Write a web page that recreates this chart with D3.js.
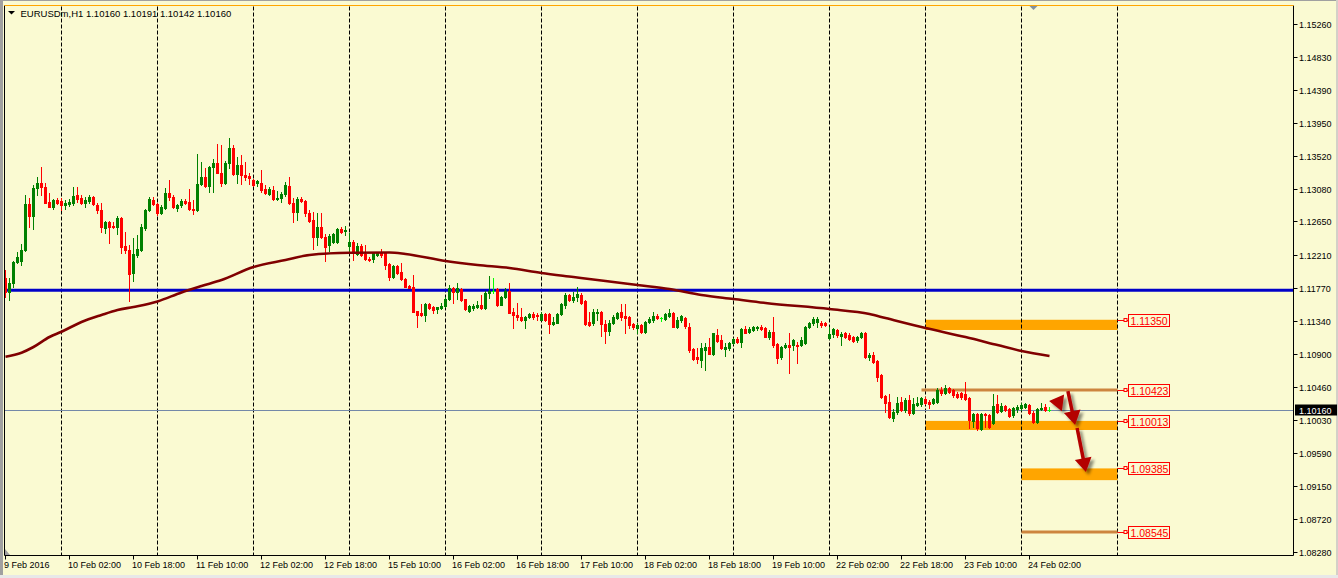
<!DOCTYPE html>
<html><head><meta charset="utf-8">
<script src="https://cdn.jsdelivr.net/npm/d3@7"></script>
<style>
html,body{margin:0;padding:0;background:#fafad2;overflow:hidden}
svg{display:block}
text{font-family:"Liberation Sans",Arial,sans-serif}
</style></head><body>
<svg id="c" width="1338" height="578"></svg>
<script>
// ---------- DATA ----------
const symbol = "EURUSDm,H1";
const open = [1.11902,1.11717,1.11836,1.12114,1.12127,1.12272,1.12880,1.12722,1.13092,1.13158,
1.13105,1.12907,1.12841,1.12933,1.12920,1.12867,1.12880,1.12894,1.12999,1.12960,
1.12894,1.12920,1.12973,1.12867,1.12801,1.12563,1.12642,1.12590,1.12576,1.12695,
1.12325,1.12272,1.11968,1.12206,1.12272,1.12563,1.12801,1.12933,1.12880,1.12761,
1.12828,1.13026,1.12973,1.12828,1.12867,1.12920,1.12907,1.12814,1.12801,1.13145,
1.13237,1.13118,1.13370,1.13422,1.13290,1.13158,1.13422,1.13621,1.13277,1.13396,
1.13264,1.13251,1.13198,1.13158,1.13158,1.13079,1.13013,1.13066,1.12947,1.12960,
1.13013,1.13118,1.12894,1.12775,1.12947,1.12920,1.12761,1.12669,1.12444,1.12576,
1.12444,1.12338,1.12378,1.12378,1.12550,1.12523,1.12325,1.12378,1.12219,1.12325,
1.12219,1.12153,1.12153,1.12206,1.12233,1.12233,1.12087,1.11915,1.12061,1.11981,
1.11889,1.11796,1.11783,1.11466,1.11439,1.11413,1.11558,1.11519,1.11492,1.11506,
1.11532,1.11625,1.11770,1.11717,1.11757,1.11625,1.11466,1.11506,1.11519,1.11545,
1.11506,1.11704,1.11730,1.11757,1.11545,1.11651,1.11730,1.11453,1.11413,1.11387,
1.11347,1.11387,1.11426,1.11413,1.11347,1.11426,1.11426,1.11294,1.11307,1.11426,
1.11545,1.11677,1.11611,1.11651,1.11677,1.11598,1.11320,1.11307,1.11439,1.11453,
1.11294,1.11201,1.11307,1.11373,1.11453,1.11400,1.11387,1.11294,1.11241,1.11281,
1.11188,1.11320,1.11347,1.11400,1.11373,1.11360,1.11400,1.11439,1.11254,1.11347,
1.11373,1.11254,1.10964,1.10858,1.10818,1.10950,1.10990,1.10897,1.11149,1.11083,
1.10964,1.10977,1.11043,1.11096,1.11056,1.11228,1.11188,1.11215,1.11241,1.11254,
1.11241,1.11122,1.11188,1.11030,1.10858,1.10990,1.11016,1.11016,1.11016,1.11016,
1.11043,1.11254,1.11307,1.11320,1.11307,1.11307,1.11109,1.11162,1.11215,1.11135,
1.11175,1.11149,1.11122,1.11083,1.11122,1.11175,1.10858,1.10884,1.10805,1.10620,
1.10342,1.10263,1.10051,1.10131,1.10263,1.10157,1.10289,1.10117,1.10223,1.10236,
1.10303,1.10263,1.10250,1.10263,1.10422,1.10382,1.10448,1.10422,1.10369,1.10382,
1.10369,1.10316,1.10012,1.10104,1.09906,1.10104,1.10091,1.09985,1.10236,1.10144,
1.10210,1.10170,1.10091,1.10170,1.10184,1.10197,1.10223,1.10117,1.09998,1.10170,
1.10197,1.10160];
const high = [1.12008,1.11902,1.12127,1.12246,1.12352,1.12999,1.12960,1.13132,1.13237,1.13370,
1.13158,1.13026,1.12947,1.12960,1.12960,1.12933,1.12947,1.13105,1.13105,1.12999,
1.12973,1.12999,1.12986,1.12894,1.12894,1.12656,1.12656,1.12642,1.12722,1.12709,
1.12510,1.12338,1.12431,1.12471,1.12616,1.12814,1.12973,1.12973,1.12894,1.12867,
1.13092,1.13198,1.12999,1.12880,1.12947,1.12947,1.13079,1.12933,1.13541,1.13436,
1.13356,1.13383,1.13475,1.13674,1.13660,1.13449,1.13753,1.13660,1.13502,1.13528,
1.13436,1.13290,1.13211,1.13198,1.13330,1.13132,1.13105,1.13118,1.13052,1.13039,
1.13171,1.13237,1.12960,1.12973,1.12973,1.12933,1.12801,1.12775,1.12761,1.12761,
1.12484,1.12484,1.12497,1.12563,1.12576,1.12590,1.12497,1.12405,1.12365,1.12352,
1.12338,1.12180,1.12233,1.12246,1.12286,1.12246,1.12100,1.12074,1.12074,1.12100,
1.11902,1.11810,1.11942,1.11466,1.11558,1.11572,1.11572,1.11532,1.11519,1.11572,
1.11651,1.11810,1.11783,1.11836,1.11770,1.11625,1.11545,1.11558,1.11598,1.11677,
1.11730,1.11929,1.11902,1.11770,1.11664,1.11770,1.11836,1.11506,1.11572,1.11506,
1.11400,1.11439,1.11453,1.11439,1.11453,1.11439,1.11439,1.11387,1.11439,1.11572,
1.11704,1.11691,1.11717,1.11783,1.11704,1.11611,1.11453,1.11492,1.11492,1.11466,
1.11347,1.11347,1.11413,1.11453,1.11558,1.11558,1.11400,1.11307,1.11307,1.11294,
1.11334,1.11387,1.11453,1.11426,1.11387,1.11439,1.11492,1.11453,1.11387,1.11413,
1.11387,1.11307,1.10977,1.10977,1.11043,1.11043,1.11109,1.11175,1.11228,1.11149,
1.11043,1.11056,1.11109,1.11122,1.11241,1.11268,1.11254,1.11268,1.11268,1.11281,
1.11254,1.11215,1.11387,1.11043,1.11003,1.11043,1.11175,1.11096,1.11056,1.11122,
1.11268,1.11320,1.11387,1.11387,1.11334,1.11320,1.11254,1.11241,1.11228,1.11188,
1.11188,1.11175,1.11135,1.11135,1.11188,1.11188,1.10911,1.10924,1.10818,1.10633,
1.10355,1.10369,1.10170,1.10329,1.10329,1.10316,1.10355,1.10316,1.10329,1.10329,
1.10329,1.10289,1.10316,1.10448,1.10461,1.10488,1.10461,1.10435,1.10395,1.10395,
1.10527,1.10329,1.10117,1.10117,1.10117,1.10117,1.10104,1.10369,1.10355,1.10250,
1.10223,1.10184,1.10197,1.10223,1.10250,1.10250,1.10236,1.10144,1.10184,1.10250,
1.10236,1.10191];
const low = [1.11651,1.11611,1.11783,1.12100,1.12074,1.12259,1.12576,1.12550,1.12999,1.12999,
1.12894,1.12841,1.12814,1.12880,1.12801,1.12814,1.12854,1.12867,1.12907,1.12880,
1.12841,1.12894,1.12867,1.12761,1.12510,1.12497,1.12365,1.12563,1.12484,1.12233,
1.12233,1.11598,1.11862,1.12180,1.12259,1.12537,1.12788,1.12867,1.12735,1.12748,
1.12814,1.12933,1.12828,1.12788,1.12841,1.12880,1.12801,1.12748,1.12788,1.13132,
1.13105,1.13039,1.13039,1.13290,1.13118,1.13145,1.13356,1.13264,1.13158,1.13145,
1.13198,1.13145,1.13118,1.13118,1.13039,1.13013,1.12999,1.12933,1.12933,1.12907,
1.12986,1.12880,1.12642,1.12669,1.12907,1.12722,1.12642,1.12286,1.12338,1.12431,
1.12127,1.12259,1.12365,1.12365,1.12497,1.12471,1.12233,1.12140,1.12206,1.12193,
1.12140,1.12127,1.12114,1.12193,1.12180,1.12021,1.11876,1.11902,1.11955,1.11876,
1.11783,1.11770,1.11453,1.11254,1.11400,1.11334,1.11492,1.11439,1.11439,1.11492,
1.11519,1.11611,1.11572,1.11625,1.11598,1.11479,1.11453,1.11479,1.11506,1.11492,
1.11492,1.11638,1.11704,1.11532,1.11545,1.11638,1.11439,1.11241,1.11347,1.11334,
1.11241,1.11373,1.11360,1.11347,1.11347,1.11334,1.11175,1.11281,1.11307,1.11413,
1.11506,1.11598,1.11585,1.11598,1.11558,1.11281,1.11268,1.11281,1.11347,1.11135,
1.11043,1.11149,1.11294,1.11360,1.11347,1.11175,1.11241,1.11228,1.11175,1.11175,
1.11175,1.11307,1.11320,1.11360,1.11334,1.11347,1.11387,1.11254,1.11241,1.11320,
1.11241,1.10924,1.10818,1.10778,1.10726,1.10686,1.10897,1.10884,1.11056,1.10964,
1.10871,1.10950,1.11030,1.11043,1.10990,1.11175,1.11175,1.11201,1.11215,1.11215,
1.11122,1.11096,1.10990,1.10778,1.10831,1.10977,1.10646,1.10950,1.10778,1.11003,
1.11030,1.11241,1.11281,1.11254,1.11254,1.11268,1.11096,1.11122,1.11122,1.11016,
1.11109,1.11083,1.11056,1.11056,1.11109,1.10845,1.10818,1.10778,1.10540,1.10316,
1.10131,1.10051,1.10012,1.10104,1.10144,1.10131,1.10091,1.10104,1.10210,1.10210,
1.10236,1.10184,1.10236,1.10250,1.10355,1.10369,1.10382,1.10329,1.10316,1.10303,
1.10289,1.09919,1.09932,1.09893,1.09893,1.09932,1.09919,1.09972,1.10117,1.10131,
1.10144,1.10065,1.10065,1.10131,1.10157,1.10184,1.10104,1.09985,1.09985,1.10157,
1.10144,1.10142];
const close = [1.11717,1.11836,1.12114,1.12180,1.12272,1.12880,1.12722,1.13092,1.13158,1.13105,
1.12894,1.12841,1.12933,1.12894,1.12867,1.12894,1.12907,1.12986,1.12947,1.12894,
1.12933,1.12973,1.12880,1.12801,1.12576,1.12642,1.12576,1.12576,1.12695,1.12312,
1.12272,1.11955,1.12219,1.12286,1.12576,1.12801,1.12947,1.12880,1.12761,1.12841,
1.13026,1.12973,1.12841,1.12867,1.12920,1.12894,1.12814,1.12801,1.13145,1.13237,
1.13118,1.13370,1.13422,1.13290,1.13158,1.13422,1.13621,1.13277,1.13396,1.13264,
1.13237,1.13224,1.13132,1.13184,1.13066,1.13026,1.13079,1.12947,1.12960,1.13013,
1.13132,1.12894,1.12775,1.12947,1.12920,1.12761,1.12656,1.12444,1.12576,1.12444,
1.12312,1.12457,1.12484,1.12550,1.12510,1.12537,1.12378,1.12233,1.12325,1.12206,
1.12153,1.12140,1.12233,1.12233,1.12206,1.12074,1.11915,1.12061,1.11968,1.11889,
1.11783,1.11770,1.11453,1.11413,1.11413,1.11558,1.11506,1.11479,1.11519,1.11532,
1.11625,1.11770,1.11717,1.11770,1.11611,1.11492,1.11532,1.11532,1.11545,1.11506,
1.11704,1.11730,1.11730,1.11545,1.11651,1.11730,1.11439,1.11413,1.11387,1.11347,
1.11387,1.11426,1.11387,1.11400,1.11426,1.11347,1.11294,1.11320,1.11426,1.11558,
1.11677,1.11611,1.11651,1.11691,1.11572,1.11294,1.11281,1.11453,1.11453,1.11294,
1.11201,1.11307,1.11387,1.11439,1.11387,1.11373,1.11281,1.11254,1.11281,1.11188,
1.11320,1.11360,1.11400,1.11373,1.11373,1.11426,1.11439,1.11254,1.11347,1.11400,
1.11268,1.10950,1.10831,1.10831,1.10977,1.10990,1.10897,1.11175,1.11069,1.10977,
1.10990,1.11043,1.11096,1.11056,1.11228,1.11175,1.11228,1.11254,1.11254,1.11228,
1.11122,1.11188,1.11016,1.10845,1.10990,1.11016,1.10990,1.11083,1.11003,1.11083,
1.11254,1.11307,1.11360,1.11360,1.11281,1.11281,1.11162,1.11228,1.11149,1.11162,
1.11122,1.11096,1.11069,1.11122,1.11175,1.10858,1.10884,1.10792,1.10593,1.10329,
1.10250,1.10065,1.10131,1.10250,1.10157,1.10289,1.10117,1.10236,1.10250,1.10316,
1.10250,1.10236,1.10303,1.10422,1.10382,1.10448,1.10395,1.10355,1.10329,1.10329,
1.10303,1.10025,1.10104,1.09919,1.10104,1.10091,1.09932,1.10210,1.10131,1.10210,
1.10157,1.10078,1.10184,1.10197,1.10223,1.10236,1.10117,1.09998,1.10170,1.10184,
1.10157,1.10160];

// moving average read at selected bars
const maIdx = [0,4,7,11,14,19,24,28,32,38,44,49,54,62,70,76,86,96,100,110,118,126,134,142,150,158,166,174,182,190,206,216,220,230,240,248,254,261];
const maVal = [1.10862,1.10915,1.10990,1.11122,1.11192,1.11320,1.11413,1.11479,1.11519,1.11592,1.11711,1.11796,1.11876,1.12048,1.12140,1.12206,1.12236,1.12239,1.12219,1.12127,1.12074,1.12034,1.11968,1.11915,1.11862,1.11810,1.11757,1.11677,1.11625,1.11572,1.11492,1.11426,1.11373,1.11241,1.11122,1.11016,1.10937,1.10871];

const tickIdx = [0,16,32,48,64,80,96,112,128,144,160,176,192,208,224,240,256];
const tickLabels = ["9 Feb 2016","10 Feb 02:00","10 Feb 18:00","11 Feb 10:00","12 Feb 02:00","12 Feb 18:00","15 Feb 10:00","16 Feb 02:00","16 Feb 18:00","17 Feb 10:00","18 Feb 02:00","18 Feb 18:00","19 Feb 10:00","22 Feb 02:00","22 Feb 18:00","23 Feb 10:00","24 Feb 02:00"];
const dayIdx = [14,38,62,86,110,134,158,182,206,230,254,278];
const priceTicks = [1.15260,1.14830,1.14390,1.13950,1.13520,1.13080,1.12650,1.12210,1.11770,1.11340,1.10900,1.10460,1.10030,1.09590,1.09150,1.08720,1.08280];

const blueLevel = 1.11740;
const bidPrice = 1.10160;
const bandTop = [1.11350,1.10013,1.09385];
const bandBottom = [1.11215,1.09893,1.09230];
const bandFrom = [230,230,254];
const bandTo = [278,278,278];
const levelPrice = [1.10423,1.08545];
const levelFrom = [229,254];
const levelTo = [278,278];
const tagPrices = [1.11350,1.10423,1.10013,1.09385,1.08545];
const tagEnd = 278;
const arrowFrom = [[264.6,1.10250],[265.6,1.10408],[267.9,1.09919]];
const arrowTo = [[260.9,1.10276],[267.4,1.09959],[270.1,1.09337]];

// ---------- DRAW ----------
const W = 1338, H = 578;
const BG = "#fafad2";
const svg = d3.select("#c");
const N = open.length;
const x = d3.scaleLinear().domain([0, N-1]).range([5.5, 5.5 + 4*(N-1)]);
const y = d3.scaleLinear().domain([1.08280, 1.15260]).range([552, 24]);
const axisX = 1293.5, topY = 5.5, botY = 555.5;
const fmt = d3.format(".5f");

const defs = svg.append("defs");
const f = defs.append("filter").attr("id","sh").attr("x","-50%").attr("y","-50%").attr("width","200%").attr("height","200%");
f.append("feDropShadow").attr("dx",3).attr("dy",3).attr("stdDeviation",1.6).attr("flood-color","#000").attr("flood-opacity",0.45);

svg.append("rect").attr("width",W).attr("height",H).attr("fill",BG);
// window frame
svg.append("rect").attr("x",0).attr("y",0).attr("width",3).attr("height",H).attr("fill","#a0a0a0");
svg.append("rect").attr("x",0).attr("y",0).attr("width",W).attr("height",1).attr("fill","#a0a0a0");
svg.append("rect").attr("x",W-2).attr("y",0).attr("width",2).attr("height",H).attr("fill","#d4d0c8");
svg.append("rect").attr("x",0).attr("y",H-3).attr("width",W).attr("height",3).attr("fill","#e8e8e8");

// orange bands (background objects)
svg.append("g").selectAll("rect").data(bandTop).join("rect")
  .attr("x",(d,k)=>x(bandFrom[k])).attr("width",(d,k)=>x(bandTo[k])-x(bandFrom[k]))
  .attr("y",d=>y(d)).attr("height",(d,k)=>y(bandBottom[k])-y(d))
  .attr("fill","#ffa500");

// day separators
svg.append("g").selectAll("line").data(dayIdx).join("line")
  .attr("x1",d=>x(d)).attr("x2",d=>x(d)).attr("y1",topY+1).attr("y2",botY)
  .attr("stroke","#000").attr("stroke-width",1).attr("stroke-dasharray","4,2");

// horizontal level lines
svg.append("line").attr("x1",5).attr("x2",axisX).attr("y1",y(blueLevel)).attr("y2",y(blueLevel))
  .attr("stroke","#0000c8").attr("stroke-width",3);
svg.append("line").attr("x1",5).attr("x2",axisX).attr("y1",Math.round(y(bidPrice))+0.5).attr("y2",Math.round(y(bidPrice))+0.5)
  .attr("stroke","#7388a8").attr("stroke-width",1);
svg.append("g").selectAll("line").data(levelPrice).join("line")
  .attr("x1",(d,k)=>x(levelFrom[k])).attr("x2",(d,k)=>x(levelTo[k]))
  .attr("y1",d=>y(d)).attr("y2",d=>y(d))
  .attr("stroke","#cd853f").attr("stroke-width",3);

// candles
const cg = svg.append("g");
d3.range(N).forEach(i=>{
  const o=open[i], c=close[i], hi=high[i], lo=low[i];
  const cx = x(i);
  const doji = o===c;
  const col = doji ? "#00ff00" : (c>o ? "#008000" : "#ff0000");
  const yh = Math.round(y(hi)), yl = Math.round(y(lo));
  cg.append("rect").attr("x",cx-0.5).attr("y",yh).attr("width",1).attr("height",Math.max(1,yl-yh+1)).attr("fill",col);
  const yt = Math.round(y(Math.max(o,c))), yb = Math.round(y(Math.min(o,c)));
  cg.append("rect").attr("x",cx-1.5).attr("y",yt).attr("width",3).attr("height",Math.max(1,yb-yt+1)).attr("fill",col);
});

// moving average
const maLine = d3.line().x(d=>x(d[0])).y(d=>y(d[1])).curve(d3.curveMonotoneX);
svg.append("path").attr("d",maLine(maIdx.map((d,k)=>[d,maVal[k]])))
  .attr("fill","none").attr("stroke","#800000").attr("stroke-width",2.6);

// arrows
const ag = svg.append("g").attr("filter","url(#sh)");
arrowFrom.forEach((s,k)=>{
  const x1=x(s[0]), y1=y(s[1]), x2=x(arrowTo[k][0]), y2=y(arrowTo[k][1]);
  const dx=x2-x1, dy=y2-y1, len=Math.hypot(dx,dy), ux=dx/len, uy=dy/len;
  const hl=14, hw=8.5;
  const bx=x2-ux*hl, by=y2-uy*hl;
  if (len>hl+1) ag.append("line").attr("x1",x1).attr("y1",y1).attr("x2",bx+ux).attr("y2",by+uy)
    .attr("stroke","#b40000").attr("stroke-width",3.5);
  ag.append("polygon").attr("points",[[x2,y2],[bx-uy*hw,by+ux*hw],[bx+uy*hw,by-ux*hw]].map(p=>p.join(",")).join(" "))
    .attr("fill","#b40000");
});

// price tags
const tg = svg.append("g");
tagPrices.forEach(p=>{
  const yy = Math.round(y(p))+0.5, x0 = x(tagEnd);
  tg.append("line").attr("x1",x0).attr("x2",x0+11).attr("y1",yy).attr("y2",yy).attr("stroke","#ff0000");
  tg.append("rect").attr("x",x0+6.5).attr("y",yy-2).attr("width",3).attr("height",3).attr("fill",BG).attr("stroke","#ff0000");
  tg.append("rect").attr("x",x0+11).attr("y",yy-6).attr("width",41).attr("height",12).attr("fill",BG).attr("stroke","#ff0000");
  tg.append("text").attr("x",x0+13).attr("y",yy+4).attr("font-size","10.5px").attr("fill","#ff0000").text(fmt(p));
});

// frame lines
svg.append("line").attr("x1",4.5).attr("x2",4.5).attr("y1",topY).attr("y2",botY).attr("stroke","#000");
svg.append("line").attr("x1",axisX).attr("x2",axisX).attr("y1",topY).attr("y2",botY).attr("stroke","#000");
svg.append("line").attr("x1",4.5).attr("x2",axisX).attr("y1",botY).attr("y2",botY).attr("stroke","#000");
svg.append("line").attr("x1",4.5).attr("x2",axisX).attr("y1",topY).attr("y2",topY).attr("stroke","#ffa500");
// shift marker
svg.append("polygon").attr("points",[[x(257)-4,6],[x(257)+4,6],[x(257),10]].map(p=>p.join(",")).join(" ")).attr("fill","#8090a0");
svg.append("polygon").attr("points","5,549 5,555 10,555").attr("fill","#a0a0a0");

// price axis
const pa = svg.append("g");
priceTicks.forEach(p=>{
  const yy = Math.round(y(p))+0.5;
  pa.append("line").attr("x1",axisX).attr("x2",axisX+4).attr("y1",yy).attr("y2",yy).attr("stroke","#000");
  pa.append("text").attr("x",1299).attr("y",yy+3.5).attr("font-size","9px").attr("fill","#000").text(fmt(p));
});
const by0 = Math.round(y(bidPrice));
pa.append("rect").attr("x",1295).attr("y",by0-5.5).attr("width",42).attr("height",11).attr("fill","#000");
pa.append("text").attr("x",1299).attr("y",by0+4).attr("font-size","9px").attr("fill","#fff").text(fmt(bidPrice));

// time axis
const ta = svg.append("g");
tickIdx.forEach((d,k)=>{
  ta.append("line").attr("x1",x(d)).attr("x2",x(d)).attr("y1",botY).attr("y2",botY+4).attr("stroke","#000");
  ta.append("text").attr("x",x(d)-1.5).attr("y",568).attr("font-size","9px").attr("fill","#000").text(tickLabels[k]);
});

// title
svg.append("polygon").attr("points","8,11 15,11 11.5,14.5").attr("fill","#000");
svg.append("text").attr("x",20.5).attr("y",16.5).attr("font-size","9.5px").attr("fill","#000")
  .text(symbol + "  " + [open[N-1],high[N-1],low[N-1],close[N-1]].map(fmt).join(" "));
</script>
</body></html>
